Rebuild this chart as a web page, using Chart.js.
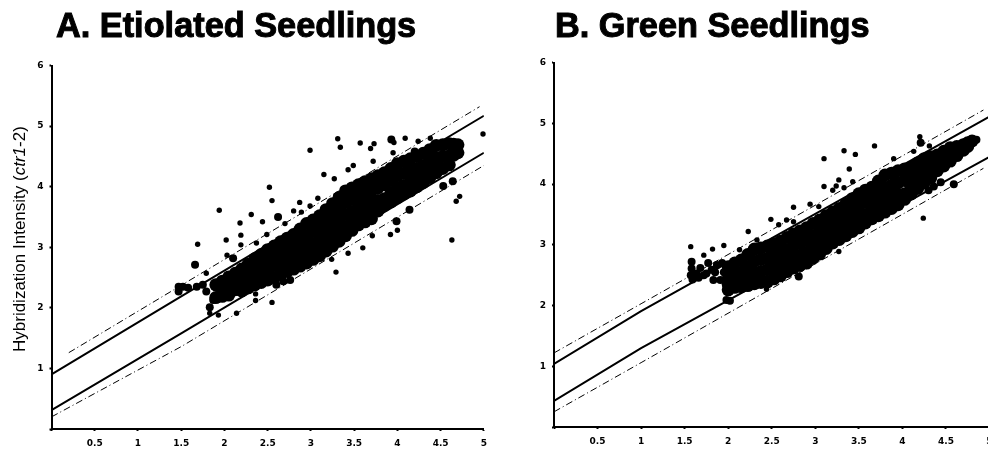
<!DOCTYPE html>
<html>
<head>
<meta charset="utf-8">
<script src="https://cdn.jsdelivr.net/npm/chart.js@4"></script>
<style>
  html, body { margin: 0; background: #fff; overflow: hidden; width: 988px; height: 449px; }
  canvas { position: absolute; top: 0; }
</style>
</head>
<body>
<canvas id="chartA" width="494" height="449" style="left:0"></canvas>
<canvas id="chartB" width="510" height="449" style="left:500px"></canvas>
<script>
const xTicks = [0.5, 1, 1.5, 2, 2.5, 3, 3.5, 4, 4.5, 5];
const yTicks = [1, 2, 3, 4, 5, 6];

// A. etiolated: the dense cloud, read column by column
const etiolatedCoreX = [1.9, 1.975, 2.05, 2.125, 2.2, 2.275, 2.35, 2.425, 2.5, 2.575, 2.65, 2.725, 2.8, 2.875, 2.95, 3.025, 3.1, 3.175, 3.25, 3.325, 3.4, 3.475, 3.55, 3.625, 3.7, 3.775, 3.85, 3.925, 4.0, 4.075, 4.15, 4.225, 4.3, 4.375, 4.45, 4.525, 4.6, 4.65, 4.7];
const etiolatedCoreY = [
  [2.38, 2.17], [2.44, 2.30, 2.19], [2.51, 2.35, 2.21], [2.57, 2.44, 2.30], [2.64, 2.48, 2.28],
  [2.72, 2.58, 2.44, 2.33], [2.81, 2.64, 2.48, 2.38], [2.88, 2.72, 2.56, 2.42],
  [2.96, 2.79, 2.63, 2.46], [3.02, 2.86, 2.70, 2.50], [3.09, 2.93, 2.76, 2.65, 2.55],
  [3.15, 2.99, 2.82, 2.68, 2.60], [3.21, 3.04, 2.88, 2.76, 2.64], [3.30, 3.12, 2.94, 2.78, 2.69],
  [3.39, 3.19, 2.99, 2.86, 2.74], [3.45, 3.26, 3.06, 2.90, 2.80], [3.52, 3.32, 3.12, 2.98, 2.86],
  [3.62, 3.42, 3.22, 3.05, 2.94], [3.72, 3.52, 3.32, 3.12, 3.02], [3.82, 3.63, 3.43, 3.23, 3.10],
  [3.93, 3.74, 3.54, 3.34, 3.19], [3.98, 3.79, 3.59, 3.42, 3.28], [4.03, 3.83, 3.64, 3.50, 3.37],
  [4.08, 3.88, 3.69, 3.50, 3.42], [4.13, 3.93, 3.74, 3.60, 3.47], [4.18, 3.98, 3.77, 3.60],
  [4.23, 4.03, 3.80, 3.69], [4.30, 4.10, 3.90, 3.75], [4.38, 4.18, 3.98, 3.82],
  [4.42, 4.22, 4.02, 3.88], [4.46, 4.26, 4.07, 3.93], [4.50, 4.30, 4.12, 4.00],
  [4.55, 4.35, 4.21, 4.07], [4.61, 4.42, 4.24, 4.15], [4.68, 4.48, 4.35, 4.23], [4.69, 4.50, 4.30],
  [4.71, 4.51, 4.36], [4.70, 4.52], [4.69, 4.56]
];
const etiolatedClumps = [
  [1.47, 2.35], [1.52, 2.35], [1.47, 2.27], [1.58, 2.33], [1.68, 2.35], [1.75, 2.38], [1.79, 2.27],
  [1.87, 2.13], [1.83, 2.01], [1.66, 2.71], [2.10, 2.82], [3.93, 4.78], [4.53, 4.01], [4.64, 4.09],
  [4.14, 3.62], [3.99, 3.43], [2.68, 2.44], [2.76, 2.46], [2.60, 2.38], [4.20, 4.58], [2.62, 3.50]
];
const etiolatedOutliers = [
  [3.31, 4.79], [3.34, 4.65], [3.57, 4.72], [3.73, 4.71], [3.69, 4.63], [3.96, 4.73], [4.09, 4.80],
  [2.99, 4.60], [4.99, 4.87], [3.72, 4.42], [3.15, 4.20], [3.27, 4.13], [3.49, 4.35], [3.43, 4.28],
  [2.52, 3.99], [2.55, 3.77], [1.94, 3.61], [2.18, 3.40], [2.31, 3.54], [2.44, 3.42], [2.80, 3.60],
  [2.87, 3.74], [2.99, 3.68], [3.08, 3.81], [2.70, 3.39], [2.89, 3.58], [4.72, 3.84], [4.68, 3.76],
  [3.95, 4.56], [4.24, 4.75], [4.38, 4.80], [1.69, 3.05], [2.02, 3.12], [2.19, 3.20], [2.19, 3.04],
  [2.03, 2.87], [1.79, 2.57], [2.49, 3.21], [2.37, 3.07], [4.63, 3.12], [3.92, 3.21], [4.00, 3.28],
  [3.71, 3.19], [3.60, 2.99], [3.43, 2.90], [3.24, 2.80], [3.29, 2.59], [2.55, 2.09], [2.36, 2.23],
  [2.36, 2.12], [2.14, 1.91], [1.83, 1.91], [1.93, 1.88], [3.18, 2.96]
];
const etiolatedUpperSolid = [[0, 0.90], [1.5, 2.19], [5, 5.17]];
const etiolatedLowerSolid = [[0, 0.31], [1.5, 1.58], [5, 4.56]];
const etiolatedUpperDash = [[0.2, 1.26], [4.95, 5.32]];
const etiolatedLowerDash = [[0, 0.20], [1.5, 1.36], [5, 4.35]];

// B. green
const greenCoreX = [2.0, 2.075, 2.15, 2.225, 2.3, 2.375, 2.45, 2.525, 2.6, 2.675, 2.75, 2.825, 2.9, 2.975, 3.05, 3.125, 3.2, 3.275, 3.35, 3.425, 3.5, 3.575, 3.65, 3.725, 3.8, 3.875, 3.95, 4.025, 4.1, 4.175, 4.25, 4.325, 4.4, 4.475, 4.55, 4.625, 4.7, 4.75, 4.8];
const greenCoreY = [
  [2.64, 2.54, 2.44, 2.35, 2.26], [2.70, 2.50, 2.30], [2.75, 2.55, 2.42, 2.31], [2.84, 2.64, 2.45, 2.33],
  [2.93, 2.73, 2.54, 2.36], [2.95, 2.76, 2.56, 2.38], [2.98, 2.78, 2.59, 2.39],
  [3.02, 2.83, 2.63, 2.44], [3.06, 2.87, 2.67, 2.49], [3.12, 2.92, 2.73, 2.56],
  [3.18, 2.98, 2.78, 2.62], [3.23, 3.03, 2.83, 2.66], [3.28, 3.08, 2.88, 2.70],
  [3.35, 3.15, 2.95, 2.78], [3.41, 3.21, 3.01, 2.85], [3.48, 3.28, 3.08, 2.94],
  [3.54, 3.34, 3.15, 3.03], [3.60, 3.41, 3.22, 3.09], [3.67, 3.48, 3.28, 3.15],
  [3.76, 3.56, 3.36, 3.22], [3.84, 3.64, 3.44, 3.28], [3.90, 3.70, 3.50, 3.36],
  [3.95, 3.76, 3.56, 3.43], [4.05, 3.85, 3.66, 3.48], [4.15, 3.95, 3.76, 3.65, 3.54],
  [4.18, 3.98, 3.79, 3.60], [4.22, 4.02, 3.82, 3.66], [4.25, 4.06, 3.84, 3.75],
  [4.28, 4.09, 3.96, 3.84], [4.35, 4.15, 4.04, 3.93], [4.42, 4.22, 4.12, 4.02], [4.45, 4.33, 4.22, 4.10], [4.48, 4.35, 4.22],
  [4.54, 4.42, 4.30], [4.60, 4.49, 4.38], [4.62, 4.47], [4.65, 4.56], [4.68, 4.62], [4.71]
];
const greenClumps = [
  [1.58, 2.72], [1.58, 2.61], [1.57, 2.50], [1.59, 2.43], [1.64, 2.53], [1.72, 2.50], [1.77, 2.70],
  [1.83, 2.42], [1.87, 2.67], [1.93, 2.70], [1.91, 2.42], [1.75, 2.53], [1.81, 2.59], [2.81, 2.48],
  [1.98, 2.09], [2.02, 2.08], [4.44, 4.03], [4.36, 3.96], [4.30, 3.90], [4.59, 4.00], [4.85, 4.73], [4.21, 4.68],
  [1.68, 2.62], [1.85, 2.55], [1.95, 2.55], [1.66, 2.46]
];
const greenOutliers = [
  [4.20, 4.78], [4.31, 4.63], [3.68, 4.63], [3.33, 4.55], [3.46, 4.49], [3.10, 4.42], [3.39, 4.25],
  [3.27, 4.07], [3.10, 3.96], [3.33, 3.94], [3.20, 3.90], [3.24, 3.97], [3.43, 4.04], [2.75, 3.62],
  [2.94, 3.67], [3.04, 3.63], [2.49, 3.42], [2.58, 3.33], [2.67, 3.41], [2.75, 3.38], [4.24, 3.44],
  [3.90, 4.42], [4.13, 4.54], [3.98, 3.68], [1.57, 2.97], [1.72, 2.83], [1.82, 2.93], [1.95, 2.99],
  [2.13, 2.92], [2.23, 3.22], [2.33, 3.08], [3.27, 2.89], [2.44, 2.27]
];
const greenUpperSolid = [[0, 1.04], [1.0, 1.91], [5, 5.11]];
const greenLowerSolid = [[0, 0.43], [1.0, 1.30], [5, 4.45]];
const greenUpperDash = [[0, 1.22], [1.0, 2.03], [4.93, 5.22]];
const greenLowerDash = [[0, 0.25], [1.0, 1.06], [4.93, 4.26]];

const toPts = (pairs) => pairs.map(p => ({x: p[0], y: p[1]}));
const coreToPts = (xs, ys) => xs.flatMap((x, i) => ys[i].map(y => ({x, y})));

function dots(data, r) {
  return {type: 'scatter', data, pointRadius: r, pointBorderWidth: 0, pointBackgroundColor: '#000', clip: false};
}
function line(pairs, width, dash) {
  return {type: 'line', data: toPts(pairs), showLine: true, pointRadius: 0, borderColor: '#000',
          borderWidth: width, borderDash: dash, tension: 0, fill: false};
}

// Panel heading (and the y title with its italic gene name) sit at their own spots
const panelText = {
  id: 'panelText',
  afterDraw(chart, args, opts) {
    const {ctx} = chart;
    ctx.save();
    ctx.fillStyle = '#000';
    ctx.strokeStyle = '#000';
    ctx.lineWidth = 1;
    ctx.font = `bold ${opts.size}px "Liberation Sans"`;
    ctx.textBaseline = 'alphabetic';
    ctx.fillText(opts.title, opts.titleX, opts.titleY);
    ctx.strokeText(opts.title, opts.titleX, opts.titleY);
    ctx.restore();
    if (!opts.yTitle) return;
    ctx.save();
    ctx.fillStyle = '#000';
    ctx.translate(opts.yTitleX, opts.yTitleY);
    ctx.rotate(-Math.PI / 2);
    ctx.textBaseline = 'alphabetic';
    let x = 0;
    opts.yTitle.forEach(part => {
      ctx.font = `${part.italic ? 'italic ' : ''}${opts.yTitleSize}px "Liberation Sans"`;
      ctx.fillText(part.text, x, 0);
      x += ctx.measureText(part.text).width;
    });
    ctx.restore();
  }
};

function makeChart(id, series, o) {
  return new Chart(document.getElementById(id), {
    data: {datasets: [
      line(series.upperSolid, 2, []),
      line(series.lowerSolid, 2, []),
      line(series.upperDash, 1, [7, 3, 1, 3]),
      line(series.lowerDash, 1, [7, 3, 1, 3]),
      dots(coreToPts(series.coreX, series.coreY), 6.5),
      dots(toPts(series.clumps), 4),
      dots(toPts(series.outliers), 2.7)
    ]},
    plugins: [panelText],
    options: {
      responsive: false,
      animation: false,
      layout: {padding: {top: o.top, right: o.right, left: 0, bottom: 0}},
      plugins: {
        legend: {display: false},
        tooltip: {enabled: false},
        panelText: o.text
      },
      scales: {
        x: {
          type: 'linear', min: 0, max: 5,
          afterBuildTicks: (s) => { s.ticks = [0].concat(xTicks).map(v => ({value: v})); },
          afterFit: (s) => { s.height = 449 - o.bottom; },
          grid: {drawOnChartArea: false, color: '#000', tickLength: 2, tickWidth: 2},
          border: {color: '#000', width: 2},
          ticks: {
            color: '#000', padding: 7, maxRotation: 0, autoSkip: false,
            font: {family: '"DejaVu Sans"', weight: 'bold', size: 9},
            callback: (v) => v === 0 ? '' : String(v)
          }
        },
        y: {
          type: 'linear', min: 0, max: 6,
          afterBuildTicks: (s) => { s.ticks = [0].concat(yTicks).map(v => ({value: v})); },
          afterFit: (s) => { s.width = o.left; },
          grid: {drawOnChartArea: false, color: '#000', tickLength: 2, tickWidth: 2},
          border: {color: '#000', width: 2},
          ticks: {
            color: '#000', padding: 6, autoSkip: false,
            font: {family: '"DejaVu Sans"', weight: 'bold', size: 9},
            callback: (v) => v === 0 ? '' : String(v)
          }
        }
      }
    }
  });
}

makeChart('chartA', {
  coreX: etiolatedCoreX, coreY: etiolatedCoreY, clumps: etiolatedClumps, outliers: etiolatedOutliers,
  upperSolid: etiolatedUpperSolid, lowerSolid: etiolatedLowerSolid,
  upperDash: etiolatedUpperDash, lowerDash: etiolatedLowerDash
}, {
  top: 65.5, right: 10, left: 51.5, bottom: 429,
  text: {
    title: 'A. Etiolated Seedlings', titleX: 56, titleY: 37, size: 34.3,
    yTitle: [{text: 'Hybridization Intensity ('}, {text: 'ctr1', italic: true}, {text: '-2)'}],
    yTitleX: 25, yTitleY: 352, yTitleSize: 17
  }
});

makeChart('chartB', {
  coreX: greenCoreX, coreY: greenCoreY, clumps: greenClumps, outliers: greenOutliers,
  upperSolid: greenUpperSolid, lowerSolid: greenLowerSolid,
  upperDash: greenUpperDash, lowerDash: greenLowerDash
}, {
  top: 62.7, right: 20.5, left: 54, bottom: 427,
  text: {title: 'B. Green Seedlings', titleX: 55, titleY: 37, size: 34.3}
});
</script>
</body>
</html>
